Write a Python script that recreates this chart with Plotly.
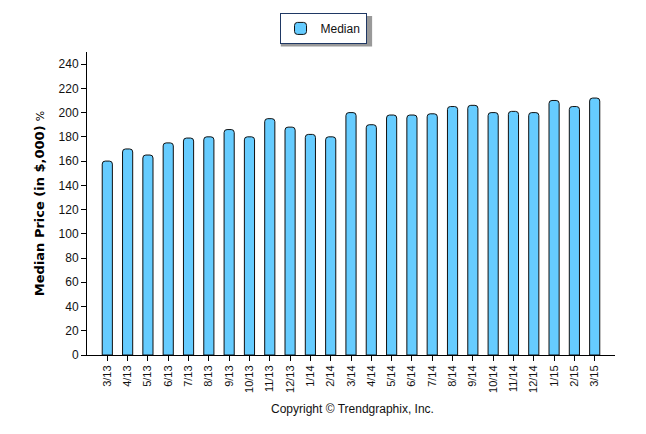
import plotly.graph_objects as go

months = ["3/13", "4/13", "5/13", "6/13", "7/13", "8/13", "9/13", "10/13", "11/13", "12/13",
          "1/14", "2/14", "3/14", "4/14", "5/14", "6/14", "7/14", "8/14", "9/14", "10/14",
          "11/14", "12/14", "1/15", "2/15", "3/15"]
median_price = [160, 170, 165, 175, 179, 180, 186, 180, 195, 188,
                182, 180, 200, 190, 198, 198, 199, 205, 206, 200,
                201, 200, 210, 205, 212]
y_ticks = [0, 20, 40, 60, 80, 100, 120, 140, 160, 180, 200, 220, 240]

fig = go.Figure()
fig.add_trace(go.Bar(
    x=months, y=median_price, name="Median",
    marker=dict(color="#66CCFF", line=dict(color="#111111", width=1), cornerradius=3),
    width=0.5,
))

fig.update_layout(
    width=638, height=426,
    margin=dict(l=79, r=31, t=44, b=79, autoexpand=False),
    paper_bgcolor="white", plot_bgcolor="white",
    font=dict(family="Liberation Sans, Arial, sans-serif", size=12, color="#111111"),
    showlegend=True,
    legend=dict(
        x=0.447, xanchor="center", y=1.129, yanchor="top",
        bordercolor="#1F3864", borderwidth=1, bgcolor="white",
        font=dict(size=12, color="#111111"),
    ),
    xaxis=dict(
        type="category", range=[-1, 25],
        showline=True, linecolor="black", linewidth=1,
        ticks="outside", ticklen=5, tickcolor="black",
        tickangle=-90, tickfont=dict(size=11),
        showgrid=False, zeroline=False,
    ),
    yaxis=dict(
        range=[0, 250], tickvals=y_ticks,
        showline=True, linecolor="black", linewidth=1,
        ticks="outside", ticklen=5, tickcolor="black",
        showgrid=False, zeroline=False,
        tickfont=dict(size=12),
        title=dict(
            text="<b>Median Price (in $,000)</b> <span style='font-size:11px'>%</span>",
            font=dict(family="DejaVu Sans, Verdana, sans-serif", size=13, color="black"),
            standoff=11,
        ),
    ),
    shapes=[dict(
        type="rect", xref="paper", yref="paper",
        x0=0.367, x1=0.540, y0=1.018, y1=1.119,
        fillcolor="#999999", line=dict(width=0), layer="below",
    )],
    annotations=[dict(
        text="Copyright © Trendgraphix, Inc.", xref="paper", yref="paper",
        x=0.502, y=-0.178, showarrow=False, xanchor="center", yanchor="middle",
        font=dict(size=12, color="#111111"),
    )],
)

fig.write_html("out.html")
